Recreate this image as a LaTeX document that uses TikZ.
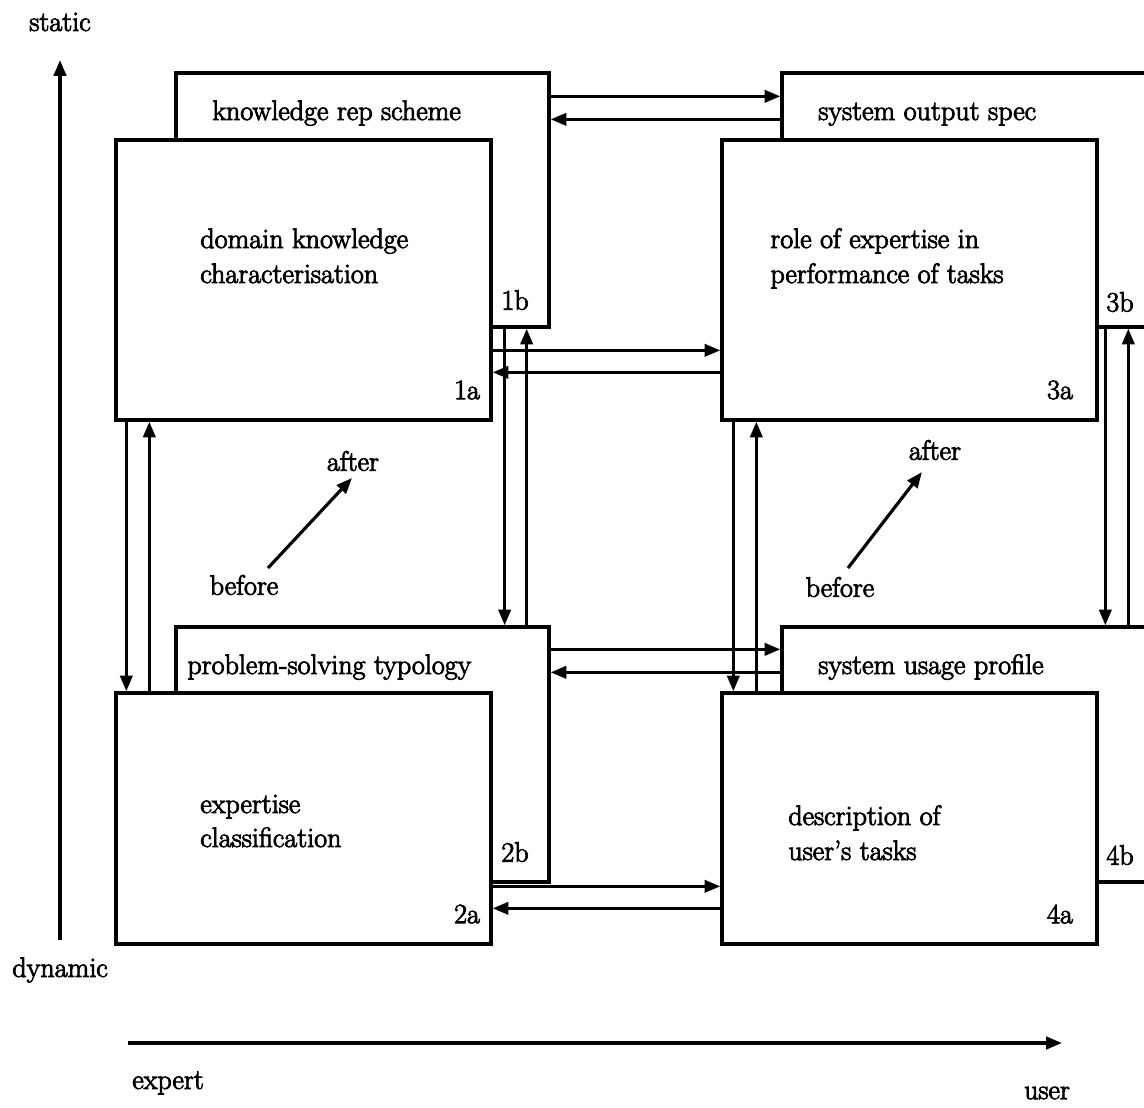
\documentclass[tikz,border=0pt]{standalone}
\usepackage{fontspec}
\setmainfont{Latin Modern Roman}[Ligatures=TeX]
\newfontfamily\heavyrm{Latin Modern Roman}[Ligatures=TeX,FakeBold=3]
\usetikzlibrary{arrows.meta,calc,fit}
\begin{document}
\begin{tikzpicture}[x=0.02cm,y=-0.02cm,
  lbl/.style={font=\heavyrm\fontsize{16}{19}\selectfont, inner sep=0pt},
  txt/.style={lbl, anchor=base west},
  boxn/.style={draw, fill=white, line width=1.9pt, inner sep=0pt},
  arr/.style={line width=1.8pt, -{Triangle[length=9pt,width=7pt]}}]
\useasboundingbox (0,0) rectangle (1144,1107);
\clip (0,0) rectangle (1144,1107);

% back boxes (b) first, front boxes (a) on top
\node[boxn, fit={(176,73) (549,327)}] (b1) {};
\node[boxn, fit={(782,73) (1160,327)}] (b3) {};
\node[boxn, fit={(176,627) (549,882)}] (b2) {};
\node[boxn, fit={(782,627) (1160,882)}] (b4) {};

\node[boxn, fit={(116,140) (491,420)}] (a1) {};
\node[boxn, fit={(722,140) (1097,420)}] (a3) {};
\node[boxn, fit={(116,693) (491,944)}] (a2) {};
\node[boxn, fit={(722,693) (1097,944)}] (a4) {};

% box texts
\node[txt] (t1b) at (212,120) {knowledge rep scheme};
\node[txt] (t3b) at (818,120) {system output spec};
\node[txt] (t2b) at (187,674) {problem-solving typology};
\node[txt] (t4b) at (818,674) {system usage profile};
\node[txt] (t1a) at (200,248) {domain knowledge};
\node[txt] (t1a2) at (200,283) {characterisation};
\node[txt] (t3a) at (770,248) {role of expertise in};
\node[txt] (t3a2) at (770,283) {performance of tasks};
\node[txt] (t2a) at (200,813) {expertise};
\node[txt] (t2a2) at (200,847) {classification};
\node[txt] (t4a) at (788,825) {description of};
\node[txt] (t4a2) at (788,860) {user's tasks};

\node[lbl] (n1b) at (515,300) {1b};
\node[lbl] (n3b) at (1120,302) {3b};
\node[lbl] (n1a) at (467,390) {1a};
\node[lbl] (n3a) at (1060,390) {3a};
\node[lbl] (n2b) at (515,852) {2b};
\node[lbl] (n4b) at (1120,855) {4b};
\node[lbl] (n2a) at (467,914) {2a};
\node[lbl] (n4a) at (1060,914) {4a};

% horizontal links
\draw[arr] ($(b1.north east)+(0,25)$) -- ($(b3.north west)+(0,25)$);
\draw[arr] ($(b3.north west)+(0,48)$) -- ($(b1.north east)+(0,48)$);
\draw[arr] ($(a1.north east)+(0,212)$) -- ($(a3.north west)+(0,212)$);
\draw[arr] ($(a3.north west)+(0,234)$) -- ($(a1.north east)+(0,234)$);
\draw[arr] ($(b2.north east)+(0,24)$) -- ($(b4.north west)+(0,24)$);
\draw[arr] ($(b4.north west)+(0,47)$) -- ($(b2.north east)+(0,47)$);
\draw[arr] ($(a2.north east)+(0,195)$) -- ($(a4.north west)+(0,195)$);
\draw[arr] ($(a4.north west)+(0,217)$) -- ($(a2.north east)+(0,217)$);

% vertical links
\draw[arr] ($(a1.south west)+(12,0)$) -- ($(a2.north west)+(12,0)$);
\draw[arr] ($(a2.north west)+(35,0)$) -- ($(a1.south west)+(35,0)$);
\draw[arr] ($(b1.south east)+(-46,0)$) -- ($(b2.north east)+(-46,0)$);
\draw[arr] ($(b2.north east)+(-24,0)$) -- ($(b1.south east)+(-24,0)$);
\draw[arr] ($(a3.south west)+(13,0)$) -- ($(a4.north west)+(13,0)$);
\draw[arr] ($(a4.north west)+(36,0)$) -- ($(a3.south west)+(36,0)$);
\draw[arr] ($(b3.south west)+(325,0)$) -- ($(b4.north west)+(325,0)$);
\draw[arr] ($(b4.north west)+(348,0)$) -- ($(b3.south west)+(348,0)$);

% before / after
\node[lbl] (bef1) at (244,585) {before};
\node[lbl] (aft1) at (353,461) {after};
\node[lbl] (bef3) at (840,587) {before};
\node[lbl] (aft3) at (935,450) {after};
\coordinate (d1s) at (268,568);
\coordinate (d1e) at (352,478);
\coordinate (d3s) at (848,568);
\coordinate (d3e) at (922,472);
\draw[arr] (d1s) -- (d1e);
\draw[arr] (d3s) -- (d3e);

% axes
\node[lbl] (static) at (60,22) {static};
\node[lbl, anchor=west] (dynamic) at (12,970) {dynamic};
\node[lbl, anchor=west] (expert) at (132,1083) {expert};
\node[lbl] (user) at (1047,1093) {user};
\coordinate (vy0) at (60,940);
\coordinate (vy1) at (60,60);
\coordinate (hx0) at (128,1043);
\coordinate (hx1) at (1062,1043);
\draw[arr] (vy0) -- (vy1);
\draw[arr] (hx0) -- (hx1);
\end{tikzpicture}
\end{document}
